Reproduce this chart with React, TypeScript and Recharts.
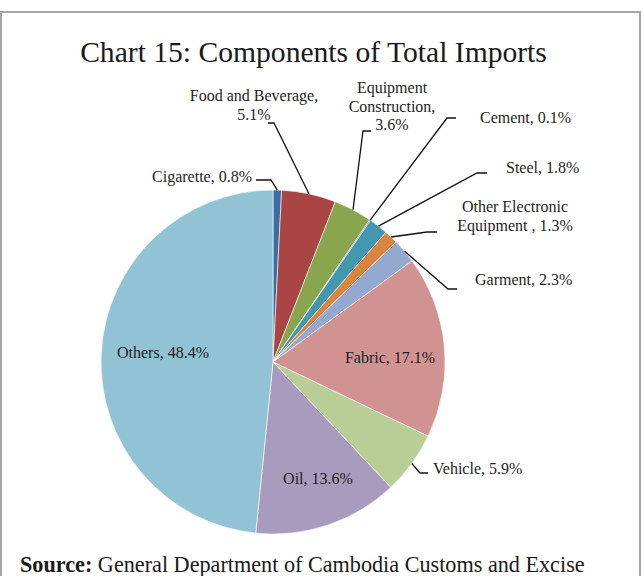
import React from "react";
import { PieChart, Pie, Cell } from "recharts";

const categories = [
  "Cigarette",
  "Food and Beverage",
  "Equipment Construction",
  "Cement",
  "Steel",
  "Other Electronic Equipment",
  "Garment",
  "Fabric",
  "Vehicle",
  "Oil",
  "Others",
];
const shares = [0.8, 5.1, 3.6, 0.1, 1.8, 1.3, 2.3, 17.1, 5.9, 13.6, 48.4];
const labelTexts = [
  ["Cigarette, 0.8%"],
  ["Food and Beverage,", "5.1%"],
  ["Equipment", "Construction,", "3.6%"],
  ["Cement, 0.1%"],
  ["Steel, 1.8%"],
  ["Other Electronic", "Equipment , 1.3%"],
  ["Garment, 2.3%"],
  ["Fabric, 17.1%"],
  ["Vehicle, 5.9%"],
  ["Oil, 13.6%"],
  ["Others, 48.4%"],
];

const colors = [
  "#3c6ea6",
  "#a94542",
  "#89a54e",
  "#71588f",
  "#4198af",
  "#db843d",
  "#93a9cf",
  "#d19392",
  "#b9cd96",
  "#a99bbd",
  "#92c3d4",
];

// label placement relative to pie centre: elbow / end of leader, text anchor point
type Lay = {
  elbow?: [number, number];
  end?: [number, number];
  tx: number;
  ty: number;
  anchor: "start" | "middle" | "end";
};
const layout: Lay[] = [
  { elbow: [-2, -182], end: [-17, -182], tx: -21, ty: -186, anchor: "end" },
  { elbow: [1, -239], end: [-5, -239], tx: -19, ty: -267, anchor: "middle" },
  { elbow: [90, -231], end: [98, -231], tx: 119, ty: -275, anchor: "middle" },
  { elbow: [174, -244], end: [183, -244], tx: 207, ty: -245, anchor: "start" },
  { elbow: [204, -189], end: [214, -189], tx: 233, ty: -195, anchor: "start" },
  { elbow: [154, -130], end: [164, -130], tx: 242, ty: -156, anchor: "middle" },
  { elbow: [175, -73], end: [184, -73], tx: 202, ty: -83, anchor: "start" },
  { tx: 117, ty: -5, anchor: "middle" },
  { elbow: [147, 111], end: [155, 111], tx: 160, ty: 106, anchor: "start" },
  { tx: 45, ty: 116, anchor: "middle" },
  { tx: -110, ty: -10, anchor: "middle" },
];

const data = categories.map((name, i) => ({ name, value: shares[i] }));

const RAD = Math.PI / 180;
const LINE_H = 18.5;

const renderLabel = (props: any) => {
  const { cx, cy, midAngle, outerRadius, index } = props;
  const lay = layout[index];
  const lines = labelTexts[index];
  let leader = null;
  if (lay.elbow && lay.end) {
    const ax = cx + outerRadius * Math.cos(-midAngle * RAD);
    const ay = cy + outerRadius * Math.sin(-midAngle * RAD);
    const d = `M${ax},${ay}L${cx + lay.elbow[0]},${cy + lay.elbow[1]}L${cx + lay.end[0]},${cy + lay.end[1]}`;
    leader = <path d={d} stroke="#111" strokeWidth={1.3} fill="none" />;
  }
  return (
    <g key={`lbl-${index}`}>
      {leader}
      <text
        x={cx + lay.tx}
        y={cy + lay.ty}
        textAnchor={lay.anchor}
        dominantBaseline="central"
        fontFamily="'Liberation Serif', 'Times New Roman', serif"
        fontSize={16}
        fill="#1e1e1e"
      >
        {lines.map((ln, j) => (
          <tspan key={j} x={cx + lay.tx} dy={j === 0 ? 0 : LINE_H}>
            {ln}
          </tspan>
        ))}
      </text>
    </g>
  );
};

export default function App() {
  return (
    <div
      style={{
        position: "fixed",
        left: 0,
        top: 0,
        width: 643,
        height: 576,
        overflow: "hidden",
        background: "#fff",
        fontFamily: "'Liberation Serif', 'Times New Roman', serif",
      }}
    >
      <div
        style={{
          position: "absolute",
          left: 0,
          top: 11,
          width: 637,
          height: 620,
          border: "2px solid #a6a6a6",
        }}
      />
      <div
        style={{
          position: "absolute",
          left: 0,
          width: 627,
          top: 34,
          textAlign: "center",
          fontSize: 29.6,
          color: "#1a1a1a",
          lineHeight: "36px",
        }}
      >
        Chart 15: Components of Total Imports
      </div>
      <div style={{ position: "absolute", left: 0, top: 0 }}>
        <PieChart width={643} height={576} margin={{ top: 0, right: 0, bottom: 0, left: 0 }}>
          <Pie
            data={data}
            dataKey="value"
            nameKey="name"
            cx={273}
            cy={362}
            outerRadius={172}
            startAngle={90}
            endAngle={-270}
            stroke="#ffffff"
            strokeWidth={0.6}
            label={renderLabel}
            labelLine={false}
            isAnimationActive={false}
          >
            {data.map((d, i) => (
              <Cell key={d.name} fill={colors[i]} />
            ))}
          </Pie>
        </PieChart>
      </div>
      <div
        style={{
          position: "absolute",
          left: 20,
          top: 551,
          fontSize: 22.2,
          color: "#1a1a1a",
          lineHeight: "28px",
          whiteSpace: "nowrap",
        }}
      >
        <b>Source:</b> General Department of Cambodia Customs and Excise
      </div>
    </div>
  );
}
